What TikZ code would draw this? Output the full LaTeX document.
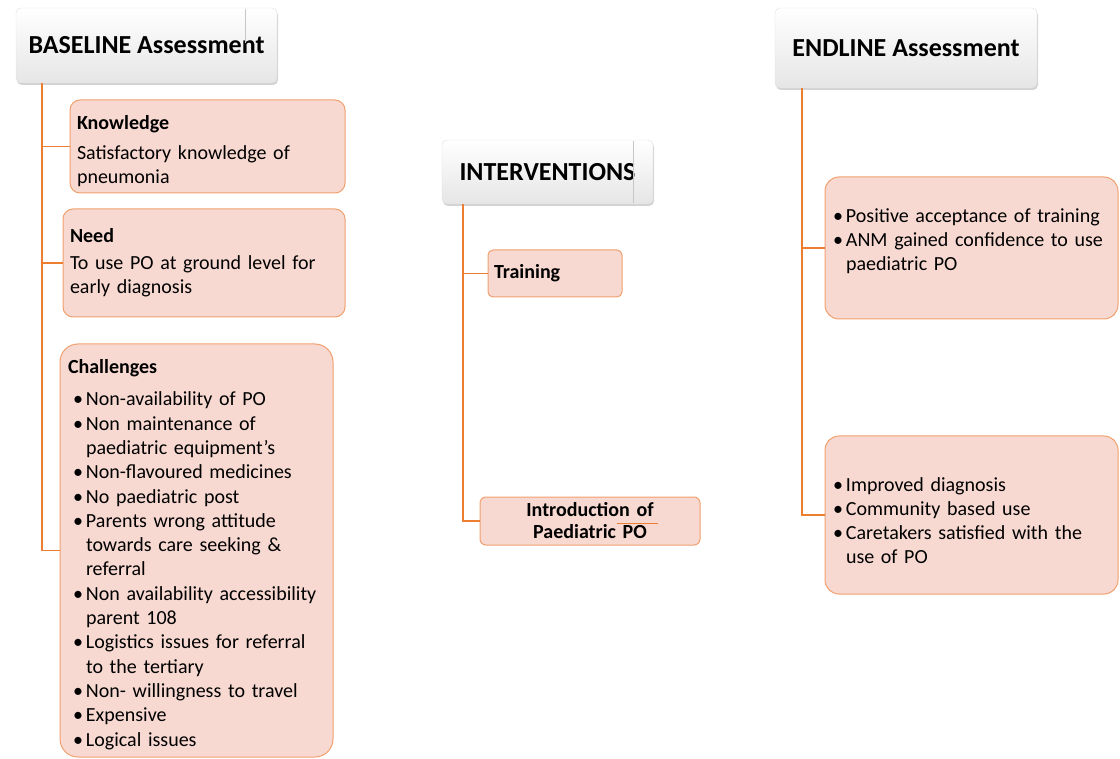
\documentclass[tikz,border=0pt]{standalone}
\usepackage{fontspec}
\setmainfont{Carlito}
\usetikzlibrary{shadows}
\definecolor{linkorange}{RGB}{237,125,49}
\definecolor{boxfill}{RGB}{247,217,209}
\definecolor{boxedge}{RGB}{241,160,110}
\tikzset{
  headbox/.style={draw=gray!25, rounded corners=5pt, top color=white, bottom color=gray!20,
    drop shadow={shadow xshift=1pt, shadow yshift=-2pt, opacity=0.35},
    font=\fontsize{26}{30}\selectfont\bfseries, inner sep=0pt},
  infobox/.style={draw=boxedge, fill=boxfill, rounded corners=10pt, line width=1pt,
    align=left, font=\fontsize{20}{24}\selectfont, inner xsep=7pt, inner ysep=0pt},
  link/.style={draw=linkorange, line width=1.6pt}
}
\newcommand\pitem[2][0pt]{\noindent\hangindent=\dimexpr#1+13pt\relax\hangafter=1\hspace*{#1}\makebox[13pt][l]{\textbullet}#2\par}

\begin{document}
\begin{tikzpicture}[x=1pt,y=-1pt]
  \useasboundingbox (0,0) rectangle (1120,759);

  % headers
  \node[headbox, minimum width=261pt, minimum height=75pt] (base) at (146.5,45.5) {BASELINE Assessment};
  \node[headbox, minimum width=211pt, minimum height=64pt] (interv) at (547.5,172) {INTERVENTIONS};
  \node[headbox, minimum width=262pt, minimum height=80pt] (endl) at (906,48) {ENDLINE Assessment};
  \draw[gray!45] ([xshift=-32pt,yshift=-1pt]base.north east) -- ++(0,34);
  \draw[gray!45] ([xshift=-20pt,yshift=-1pt]interv.north east) -- ([xshift=-20pt,yshift=1pt]interv.south east);

  % baseline column
  \node[infobox, text width=261pt, minimum height=93pt] (know) at (207.5,146.5)
    {\rule{0pt}{23pt}\textbf{Knowledge}\par\vspace{6pt}Satisfactory knowledge of\newline pneumonia};
  \node[infobox, text width=268pt, minimum height=108pt] (need) at (204,263)
    {\textbf{Need}\par\vspace{3pt}To use PO at ground level for\newline early diagnosis};
  \node[infobox, rounded corners=18pt, inner xsep=8pt, text width=257pt, minimum height=413pt,
        font=\fontsize{20}{24.3}\selectfont] (chall) at (196.5,550.5)
    {\rule{0pt}{22pt}\textbf{Challenges}\par\vspace{8pt}%
     \pitem[5pt]{Non-availability of PO}
     \pitem[5pt]{Non maintenance of\newline paediatric equipment’s}
     \pitem[5pt]{Non-flavoured medicines}
     \pitem[5pt]{No paediatric post}
     \pitem[5pt]{Parents wrong attitude\newline towards care seeking \&\newline referral}
     \pitem[5pt]{Non availability accessibility\newline parent 108}
     \pitem[5pt]{Logistics issues for referral\newline to the tertiary}
     \pitem[5pt]{Non- willingness to travel}
     \pitem[5pt]{Expensive}
     \pitem[5pt]{Logical issues}};

  % interventions column
  \node[infobox, rounded corners=5pt, inner xsep=6pt, text width=122pt, minimum height=47pt, font=\fontsize{20}{24}\selectfont\bfseries] (trn) at (555,273.5) {Training};
  \node[infobox, rounded corners=6pt, align=center, text width=206pt, minimum height=48pt, font=\fontsize{20}{22}\selectfont\bfseries] (intro) at (590,521)
    {Introduction of\\Paediatric PO};
  \draw[linkorange, line width=0.8pt] ([xshift=27pt,yshift=-2pt]intro.center) -- ++(41,0);

  % endline column
  \node[infobox, rounded corners=14pt, inner xsep=8pt, text width=277pt, minimum height=142pt] (end1) at (971.5,248)
    {\pitem{Positive acceptance of training}
     \pitem{ANM gained confidence to use\newline paediatric PO\rule[-17pt]{0pt}{1pt}}};
  \node[infobox, rounded corners=14pt, inner xsep=8pt, text width=277pt, minimum height=158pt] (end2) at (971.5,515)
    {\pitem{\rule{0pt}{26pt}Improved diagnosis}
     \pitem{Community based use}
     \pitem{Caretakers satisfied with the\newline use of PO}};

  % connectors
  \draw[link] ([xshift=26pt]base.south west) |- (know.west);
  \draw[link] ([xshift=26pt]base.south west) |- (need.west);
  \draw[link] ([xshift=26pt]base.south west) |- (chall.west);
  \draw[link] ([xshift=21pt]interv.south west) |- (trn.west);
  \draw[link] ([xshift=21pt]interv.south west) |- (intro.west);
  \draw[link] ([xshift=27pt]endl.south west) |- (end1.west);
  \draw[link] ([xshift=27pt]endl.south west) |- (end2.west);
\end{tikzpicture}
\end{document}
